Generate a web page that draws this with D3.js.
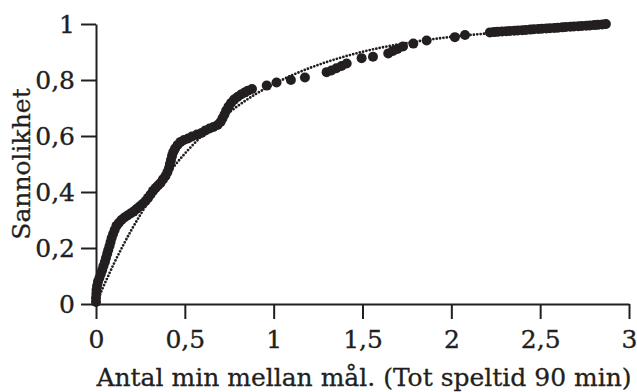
<!DOCTYPE html>
<html>
<head>
<meta charset="utf-8">
<script src="https://cdn.jsdelivr.net/npm/d3@7"></script>
<style>
  body { margin: 0; background: #fff; }
  svg { display: block; font-family: "DejaVu Serif", serif; }
</style>
</head>
<body>
<svg id="chart"></svg>
<script>
const W = 637
const H = 392
const ink = '#231f20'

// empirical distribution, minutes between goals (in units of 90 min) -> probability
const obsX = [0.000, 0.000, 0.002, 0.003, 0.006, 0.011, 0.019, 0.027, 0.035, 0.042,
  0.050, 0.056, 0.063, 0.069, 0.076, 0.082, 0.088, 0.096, 0.105, 0.115,
  0.128, 0.143, 0.160, 0.177, 0.194, 0.211, 0.228, 0.245, 0.262, 0.279,
  0.293, 0.307, 0.321, 0.335, 0.349, 0.363, 0.377, 0.391, 0.402, 0.411,
  0.416, 0.422, 0.428, 0.435, 0.445, 0.459, 0.476, 0.495, 0.518, 0.540,
  0.568, 0.594, 0.616, 0.639, 0.661, 0.684, 0.701, 0.712, 0.723, 0.733,
  0.746, 0.760, 0.777, 0.796, 0.816, 0.836, 0.855, 0.878, 0.961, 1.016,
  1.097, 1.176, 1.298, 1.325, 1.353, 1.382, 1.411, 1.495, 1.559, 1.645,
  1.671, 1.697, 1.728, 1.786, 1.861, 2.020, 2.077, 2.217, 2.240, 2.260,
  2.285, 2.310, 2.330, 2.355, 2.375, 2.400, 2.420, 2.445, 2.465, 2.490,
  2.510, 2.535, 2.555, 2.580, 2.600, 2.625, 2.645, 2.670, 2.690, 2.715,
  2.735, 2.760, 2.780, 2.805, 2.825, 2.850, 2.870]
const obsP = [0.007, 0.021, 0.036, 0.050, 0.064, 0.079, 0.093, 0.107, 0.121, 0.136,
  0.150, 0.164, 0.179, 0.193, 0.207, 0.221, 0.236, 0.250, 0.264, 0.279,
  0.289, 0.300, 0.309, 0.316, 0.323, 0.330, 0.339, 0.348, 0.357, 0.368,
  0.379, 0.391, 0.404, 0.414, 0.423, 0.432, 0.445, 0.457, 0.471, 0.486,
  0.500, 0.514, 0.529, 0.543, 0.555, 0.568, 0.579, 0.586, 0.591, 0.598,
  0.605, 0.611, 0.620, 0.627, 0.632, 0.639, 0.650, 0.663, 0.677, 0.691,
  0.705, 0.718, 0.730, 0.739, 0.748, 0.755, 0.762, 0.768, 0.780, 0.791,
  0.800, 0.809, 0.828, 0.834, 0.842, 0.850, 0.859, 0.878, 0.883, 0.895,
  0.904, 0.911, 0.920, 0.930, 0.941, 0.953, 0.961, 0.970, 0.971, 0.972,
  0.973, 0.974, 0.975, 0.976, 0.977, 0.978, 0.979, 0.980, 0.981, 0.982,
  0.983, 0.984, 0.985, 0.986, 0.987, 0.988, 0.989, 0.990, 0.991, 0.992,
  0.993, 0.994, 0.995, 0.996, 0.997, 0.998, 1.000]

// fitted curve (dotted)
const fitX = [0, 0.02, 0.04, 0.06, 0.1, 0.15, 0.2, 0.25, 0.3, 0.35, 0.4, 0.5, 0.6, 0.7,
  0.8, 0.9, 1.0, 1.1, 1.2, 1.4, 1.6, 1.8, 2.0, 2.2, 2.4, 2.6, 2.8, 2.88]
const fitP = [0, 0.030, 0.060, 0.088, 0.143, 0.206, 0.265, 0.319, 0.370, 0.416, 0.460, 0.537,
  0.603, 0.659, 0.708, 0.750, 0.785, 0.816, 0.842, 0.884, 0.915, 0.937, 0.954, 0.966,
  0.975, 0.982, 0.987, 0.988]

const xTicks = [0, 0.5, 1, 1.5, 2, 2.5, 3]
const yTicks = [0, 0.2, 0.4, 0.6, 0.8, 1]
const xTitle = 'Antal min mellan mål. (Tot speltid 90 min)'
const yTitle = 'Sannolikhet'

const svg = d3.select('#chart')
  .attr('width', W)
  .attr('height', H)

const x = d3.scaleLinear().domain([0, 3]).range([96, 629])
const y = d3.scaleLinear().domain([0, 1]).range([304, 24])
const fmt = d => String(d).replace('.', ',')

const xAxis = svg.append('g')
  .attr('transform', `translate(0, ${y(0)})`)
  .call(d3.axisBottom(x).tickValues(xTicks).tickSize(15).tickSizeOuter(0).tickPadding(11).tickFormat(fmt))

const yAxis = svg.append('g')
  .attr('transform', `translate(${x(0)}, 0)`)
  .call(d3.axisLeft(y).tickValues(yTicks).tickSize(15).tickSizeOuter(0).tickPadding(6).tickFormat(fmt))

;[xAxis, yAxis].forEach(g => {
  g.selectAll('path, line').attr('stroke', ink).attr('stroke-width', 2)
  g.selectAll('text')
    .attr('fill', ink)
    .attr('stroke', ink)
    .attr('stroke-width', 0.35)
    .style('font-size', '25px')
    .style('font-family', '"DejaVu Serif", serif')
})

const fit = d3.line()
  .x((d, i) => x(fitX[i]))
  .y(d => y(d))
  .curve(d3.curveMonotoneX)

svg.append('path')
  .datum(fitP)
  .attr('d', fit)
  .attr('fill', 'none')
  .attr('stroke', ink)
  .attr('stroke-width', 2.8)
  .attr('stroke-linecap', 'round')
  .attr('stroke-dasharray', '0 3.4')

svg.append('g')
  .selectAll('circle')
  .data(obsP)
  .join('circle')
    .attr('cx', (d, i) => x(obsX[i]))
    .attr('cy', d => y(d))
    .attr('r', 5)
    .attr('fill', ink)

svg.append('text')
  .attr('x', 364)
  .attr('y', 386)
  .attr('text-anchor', 'middle')
  .attr('fill', ink)
  .attr('stroke', ink)
  .attr('stroke-width', 0.3)
  .style('font-size', '25px')
  .text(xTitle)

svg.append('text')
  .attr('transform', `translate(30, ${(y(0) + y(1)) / 2}) rotate(-90)`)
  .attr('text-anchor', 'middle')
  .attr('fill', ink)
  .attr('stroke', ink)
  .attr('stroke-width', 0.3)
  .style('font-size', '25px')
  .text(yTitle)
</script>
</body>
</html>
